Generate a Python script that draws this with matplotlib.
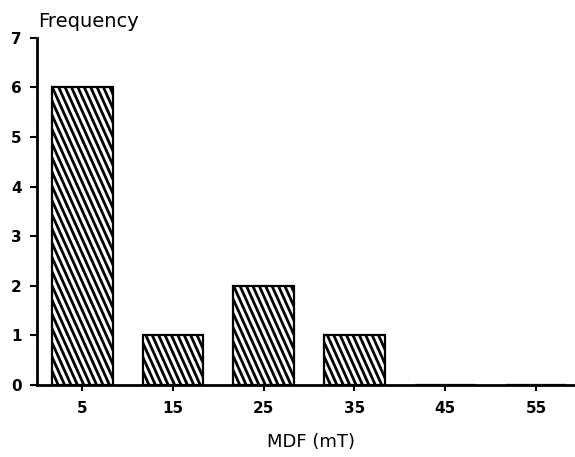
import matplotlib.pyplot as plt
import numpy as np
from matplotlib.transforms import IdentityTransform

# MDF class centres (mT) and counts
mdf_centres = [5, 15, 25, 35, 45, 55]
frequency = [6, 1, 2, 1, 0, 0]
tick_labels = ['5', '15', '25', '35', '45', '55']

fig = plt.figure(figsize=(5.75, 4.57), dpi=100)
ax = fig.add_axes([0.064, 0.158, 0.936, 0.759])

bars = ax.bar(mdf_centres, frequency, width=6.7, color='white',
              edgecolor='black', linewidth=1.6, zorder=2)

ax.set_xlim(0, 59.3)
ax.set_ylim(0, 7)
ax.set_xticks(mdf_centres)
ax.set_xticklabels(tick_labels)
ax.set_yticks(np.arange(0, 8))

# steep hatching (the built-in '\\' is only 45 degrees)
step = 6.4      # horizontal spacing in pixels
lean = 0.45     # horizontal shift per pixel of drop
for b in bars:
    if b.get_height() <= 0:
        continue
    (x0, y0), (x1, y1) = ax.transData.transform(
        [(b.get_x(), 0), (b.get_x() + b.get_width(), b.get_height())])
    h = y1 - y0
    for xs in np.arange(x0 - h * lean, x1 + step, step):
        ln, = ax.plot([xs, xs + h * lean], [y1, y0], color='black', lw=2.0,
                      transform=IdentityTransform(), zorder=2.5,
                      solid_capstyle='butt')
        ln.set_clip_path(b)

for side in ['top', 'right']:
    ax.spines[side].set_visible(False)
ax.spines['left'].set_linewidth(2)
ax.spines['bottom'].set_linewidth(2)

ax.tick_params(axis='both', direction='out', width=1.5, labelsize=11)
ax.tick_params(axis='y', length=5, pad=6)
ax.tick_params(axis='x', length=4, pad=8)
for lbl in ax.get_xticklabels() + ax.get_yticklabels():
    lbl.set_fontweight('bold')

ax.set_xlabel('MDF (mT)', fontsize=13, labelpad=11)
ax.xaxis.set_label_coords(0.51, -0.14)
fig.text(0.066, 0.952, 'Frequency', fontsize=14, ha='left', va='center')

fig.savefig('out.png', dpi=100)
